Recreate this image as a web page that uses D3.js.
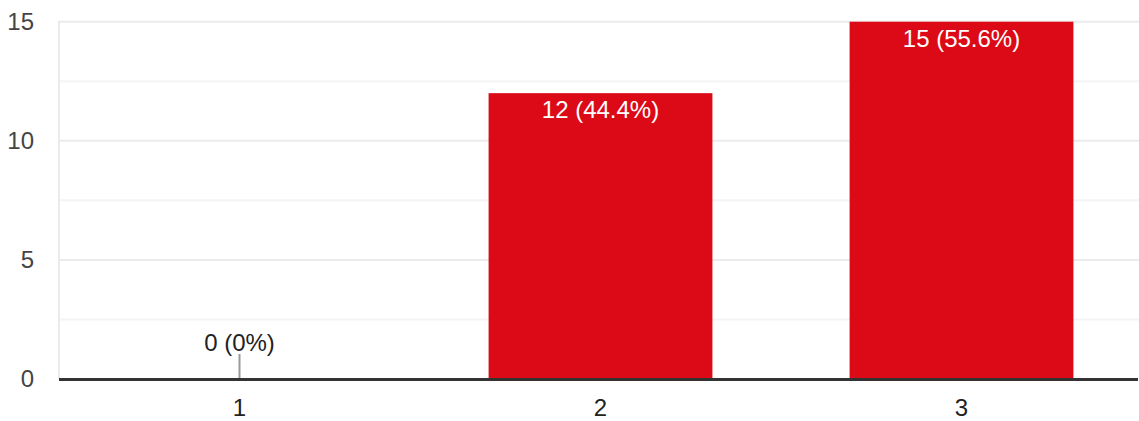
<!DOCTYPE html>
<html><head><meta charset="utf-8">
<script src="https://cdnjs.cloudflare.com/ajax/libs/d3/7.8.5/d3.min.js"></script>
<style>body{margin:0;background:#fff}svg{display:block;font-family:"Liberation Sans",Arial,sans-serif}</style>
</head><body>
<script>
const categories = ["1", "2", "3"];
const values = [0, 12, 15];
const labels = ["0 (0%)", "12 (44.4%)", "15 (55.6%)"];
const yTicks = [0, 5, 10, 15];
const yMinor = [2.5, 7.5, 12.5];

const W = 1139, H = 421;
const FONT = "Liberation Sans, Arial, sans-serif";
const FS = 24;
const svg = d3.select("body").append("svg").attr("width", W).attr("height", H);
const x = d3.scaleBand().domain(categories).range([59, 1142]).paddingInner(0.38).paddingOuter(0.19);
const y = d3.scaleLinear().domain([0, 15]).range([379, 21.7]);

svg.selectAll(".minor").data(yMinor).join("line")
  .attr("x1", 59).attr("x2", W).attr("y1", d => y(d)).attr("y2", d => y(d))
  .attr("stroke", "#f4f4f4").attr("stroke-width", 2);
svg.selectAll(".major").data(yTicks.filter(d => d > 0)).join("line")
  .attr("x1", 59).attr("x2", W).attr("y1", d => y(d)).attr("y2", d => y(d))
  .attr("stroke", "#ebebeb").attr("stroke-width", 2);
svg.append("line").attr("x1", 59).attr("x2", 59).attr("y1", y(15) - 1).attr("y2", y(0))
  .attr("stroke", "#ebebeb").attr("stroke-width", 2);

const yAxis = d3.axisLeft(y).tickValues(yTicks).tickSize(0).tickPadding(25);
const yg = svg.append("g").attr("transform", "translate(59,0)").call(yAxis);
yg.select(".domain").remove();
yg.selectAll("text").attr("font-size", FS).attr("fill", "#444").attr("font-family", FONT);

svg.selectAll(".bar").data(values).join("rect")
  .attr("x", (d, i) => x(categories[i])).attr("width", x.bandwidth())
  .attr("y", d => y(d)).attr("height", d => y(0) - y(d))
  .attr("fill", "#dc0a16");

values.forEach((v, i) => {
  const cx = x(categories[i]) + x.bandwidth() / 2;
  if (v === 0) {
    svg.append("line").attr("x1", cx).attr("x2", cx).attr("y1", y(0) - 25).attr("y2", y(0))
      .attr("stroke", "#999").attr("stroke-width", 2);
    svg.append("text").attr("x", cx).attr("y", y(0) - 28).attr("text-anchor", "middle")
      .attr("font-size", FS).attr("fill", "#222").attr("font-family", FONT).text(labels[i]);
  } else {
    svg.append("text").attr("x", cx).attr("y", y(v) + 25).attr("text-anchor", "middle")
      .attr("font-size", FS).attr("fill", "#fff").attr("font-family", FONT).text(labels[i]);
  }
});

svg.append("line").attr("x1", 59).attr("x2", 1138).attr("y1", y(0) + 0.5).attr("y2", y(0) + 0.5)
  .attr("stroke", "#333").attr("stroke-width", 3);

const xAxis = d3.axisBottom(x).tickSize(0).tickPadding(20);
const xg = svg.append("g").attr("transform", `translate(0,${y(0)})`).call(xAxis);
xg.select(".domain").remove();
xg.selectAll("text").attr("font-size", FS).attr("fill", "#222").attr("font-family", FONT);
</script>
</body></html>
